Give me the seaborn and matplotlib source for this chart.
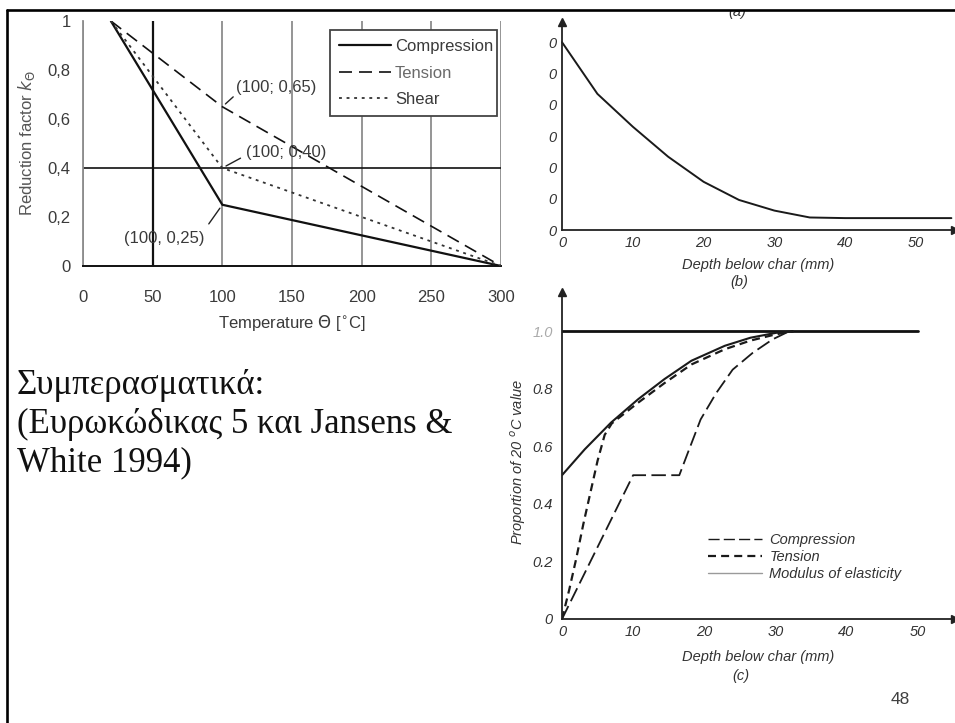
import matplotlib
matplotlib.use("Agg")
import matplotlib.pyplot as plt
import seaborn as sns
from matplotlib.lines import Line2D
from matplotlib.transforms import Bbox

# ---- Eurocode 5 reduction factors for strength vs. temperature ----
temp_c = [20, 100, 300]
k_compression = [1.0, 0.25, 0.0]
k_tension = [1.0, 0.65, 0.0]
k_shear = [1.0, 0.40, 0.0]
temp_ticks = [0, 50, 100, 150, 200, 250, 300]
k_ticks = [0, 0.2, 0.4, 0.6, 0.8, 1.0]
k_tick_labels = ["0", "0,2", "0,4", "0,6", "0,8", "1"]
point_labels = ["(100; 0,65)", "(100; 0,40)", "(100, 0,25)"]

# ---- (b) profile below the char line ----
depth_b = [0, 5, 10, 15, 20, 25, 30, 35, 40, 45, 50, 55]
profile_b = [6.0, 4.35, 3.3, 2.34, 1.54, 0.96, 0.62, 0.40, 0.38, 0.38, 0.38, 0.38]
profile_b_ticks = [0, 1, 2, 3, 4, 5, 6]
depth_ticks = [0, 10, 20, 30, 40, 50]
depth_minor = [5, 15, 25, 35, 45]

# ---- (c) proportion of 20 °C value vs. depth below char ----
ref_depth = [0, 50]
ref_prop = [1.0, 1.0]
mod_depth = [0, 3.2, 6.9, 10.7, 14.4, 18.2, 22.9, 26.5, 30.1, 32.5]
mod_prop = [0.5, 0.59, 0.683, 0.764, 0.834, 0.898, 0.95, 0.978, 0.995, 1.0]
ten_depth = [0, 1, 2, 3, 4, 5, 6, 7, 10.7, 14.4, 18.2, 22.9, 26.5, 30.1, 32.5]
ten_prop = [0, 0.1, 0.21, 0.33, 0.44, 0.55, 0.64, 0.68, 0.752, 0.82, 0.885,
            0.938, 0.968, 0.99, 1.0]
comp_depth = [0, 10, 16.5, 17.7, 19.5, 21.7, 24, 26.8, 29.6, 31.5, 32.5]
comp_prop = [0, 0.5, 0.5, 0.578, 0.694, 0.786, 0.867, 0.925, 0.972, 0.995, 1.0]
prop_major = [0, 0.2, 0.4, 0.6, 0.8, 1.0]
prop_minor = [0.1, 0.3, 0.5, 0.7, 0.9]
prop_labels = ["0", "0.2", "0.4", "0.6", "0.8", "1.0"]

W, H = 955, 723

sns.set_theme(style="white")
plt.rcParams["font.family"] = ["Liberation Sans", "DejaVu Sans"]
plt.rcParams["axes.facecolor"] = "none"

fig = plt.figure(figsize=(W / 100, H / 100), dpi=100)
fig.patch.set_facecolor("white")


def px_rect(left, top, right, bottom):
    return [left / W, 1 - bottom / H, (right - left) / W, (bottom - top) / H]


def ftext(x, y, s, **kw):
    return fig.text(x / W, 1 - y / H, s, **kw)


# ================= left chart: reduction factor =================
grey_txt = "#3a3a3a"
ax1 = fig.add_axes(px_rect(83, 21, 501, 266))
ax1.set_xlim(0, 300)
ax1.set_ylim(0, 1)
ax1.set_xticks(temp_ticks)
ax1.set_yticks(k_ticks)
ax1.set_yticklabels(k_tick_labels)
ax1.grid(axis="x", color="#8c8c8c", lw=1.3)
ax1.xaxis.get_gridlines()[1].set_color("#111111")
ax1.xaxis.get_gridlines()[1].set_linewidth(1.6)
ax1.axhline(k_ticks[2], color="#111111", lw=1.2, zorder=1)
for s in ["top", "right"]:
    ax1.spines[s].set_visible(False)
ax1.spines["left"].set_color("#8c8c8c")
ax1.spines["left"].set_linewidth(1.3)
ax1.spines["bottom"].set_color("#111111")
ax1.spines["bottom"].set_linewidth(1.4)
ax1.tick_params(axis="both", direction="out", length=4, width=1.1,
                colors="#777777", labelcolor=grey_txt, labelsize=12)
ax1.tick_params(axis="x", pad=13)
ax1.tick_params(axis="y", pad=5)

sns.lineplot(x=temp_c, y=k_compression, ax=ax1, color="#111111", lw=1.6,
             label="Compression", zorder=3)
sns.lineplot(x=temp_c, y=k_tension, ax=ax1, color="#111111", lw=1.2,
             ls=(0, (7.8, 4.2)), label="Tension", zorder=3)
sns.lineplot(x=temp_c, y=k_shear, ax=ax1, color="#333333", lw=1.3,
             ls=(0, (1.6, 2.6)), label="Shear", zorder=3)

leg1 = ax1.legend(loc="upper left", bbox_to_anchor=(0.591, 0.637, 0.40, 0.327),
                  mode="expand", frameon=True, fancybox=False, borderaxespad=0,
                  fontsize=12, handlelength=3.1, handletextpad=0.25,
                  labelspacing=0.7, borderpad=0.55)
leg1.get_frame().set_edgecolor("#444444")
leg1.get_frame().set_linewidth(1.3)
leg1.get_frame().set_facecolor("white")
leg1.get_frame().set_alpha(1)
for t, c in zip(leg1.get_texts(), [grey_txt, "#6a6a6a", grey_txt]):
    t.set_color(c)

ax1.set_ylabel(r"Reduction factor $k_{\Theta}$", fontsize=12, color="#555555")
ax1.yaxis.set_label_coords(-0.110, 0.5)
ax1.set_xlabel(r"Temperature $\Theta$ [$^{\circ}$C]", fontsize=12,
               color=grey_txt, labelpad=6)

arrow_kw = dict(arrowstyle="-", color="#222222", lw=1.0)
ax1.annotate(point_labels[0], xy=(temp_c[1], k_tension[1]), xytext=(139, 0.727),
             ha="center", va="center", fontsize=12, color=grey_txt,
             arrowprops=dict(**arrow_kw, relpos=(0.0, 0.1), shrinkA=0, shrinkB=3))
ax1.annotate(point_labels[1], xy=(temp_c[1], k_shear[1]), xytext=(146, 0.465),
             ha="center", va="center", fontsize=12, color=grey_txt,
             arrowprops=dict(**arrow_kw, relpos=(0.0, 0.3), shrinkA=2, shrinkB=3))
ax1.annotate(point_labels[2], xy=(temp_c[1], k_compression[1]), xytext=(58, 0.114),
             ha="center", va="center", fontsize=12, color=grey_txt,
             arrowprops=dict(**arrow_kw, relpos=(1.0, 1.0), shrinkA=3, shrinkB=3))

# ================= (b) =================
ital = dict(fontstyle="italic", color="#333333")
ax2 = fig.add_axes(px_rect(562, 22, 955, 230))
ax2.set_xlim(0, 393 / 7.08)
ax2.set_ylim(0, 208 / 31.3)
sns.lineplot(x=depth_b, y=profile_b, ax=ax2, color="#1a1a1a", lw=1.4,
             clip_on=False)
ax2.set_xticks(depth_ticks)
ax2.set_xticks(depth_minor, minor=True)
ax2.set_yticks(profile_b_ticks)
ax2.set_yticklabels(["0"] * len(profile_b_ticks))
for s in ["top", "right"]:
    ax2.spines[s].set_visible(False)
for s in ["left", "bottom"]:
    ax2.spines[s].set_color("#222222")
    ax2.spines[s].set_linewidth(1.3)
ax2.tick_params(axis="both", which="both", direction="in", length=8, width=1.3,
                color="#222222", labelsize=10.5, labelcolor="#333333")
ax2.tick_params(axis="y", pad=4)
ax2.tick_params(axis="x", pad=4)
for t in ax2.get_xticklabels() + ax2.get_yticklabels():
    t.set_fontstyle("italic")
ax2.plot(1, 0, ">", color="#222222", ms=6, transform=ax2.get_yaxis_transform(),
         clip_on=False)
ax2.plot(0, 1, "^", color="#222222", ms=6, transform=ax2.get_xaxis_transform(),
         clip_on=False)
ax2.set_xlabel("Depth below char (mm)", fontsize=10.5, labelpad=6, **ital)
ftext(739, 282, "(b)", fontsize=10.5, ha="center", va="center", **ital)
ta = ftext(737, 12, "(a)", fontsize=10.5, ha="center", va="center", **ital)
ta.set_clip_box(Bbox.from_extents(0, 0, W, H - 10))
ta.set_clip_on(True)

# ================= (c) =================
ax3 = fig.add_axes(px_rect(562, 292, 955, 619))
ax3.set_xlim(0, 393 / 7.11)
ax3.set_ylim(0, 327 / 287.6)
sns.lineplot(x=ref_depth, y=ref_prop, ax=ax3, color="#111111", lw=2.0)
sns.lineplot(x=comp_depth, y=comp_prop, ax=ax3, color="#1a1a1a", lw=1.3,
             ls=(0, (8, 3)), label="Compression")
sns.lineplot(x=ten_depth, y=ten_prop, ax=ax3, color="#1a1a1a", lw=1.6,
             ls=(0, (3.6, 2.3)), label="Tension")
sns.lineplot(x=mod_depth, y=mod_prop, ax=ax3, color="#1a1a1a", lw=1.5,
             label="Modulus of elasticity")
ax3.set_xticks(depth_ticks)
ax3.set_xticks(depth_minor, minor=True)
ax3.set_yticks(prop_major)
ax3.set_yticks(prop_minor, minor=True)
ax3.set_yticklabels(prop_labels)
for s in ["top", "right"]:
    ax3.spines[s].set_visible(False)
for s in ["left", "bottom"]:
    ax3.spines[s].set_color("#222222")
    ax3.spines[s].set_linewidth(1.3)
ax3.tick_params(axis="both", which="both", direction="in", length=8, width=1.3,
                color="#222222", labelsize=10.5, labelcolor="#333333")
ax3.tick_params(axis="y", pad=6.5)
ax3.tick_params(axis="x", pad=4)
for t in ax3.get_xticklabels() + ax3.get_yticklabels():
    t.set_fontstyle("italic")
ax3.get_yticklabels()[-1].set_color("#aaaaaa")
ax3.plot(1, 0, ">", color="#222222", ms=6, transform=ax3.get_yaxis_transform(),
         clip_on=False)
ax3.plot(0, 1, "^", color="#222222", ms=6, transform=ax3.get_xaxis_transform(),
         clip_on=False)
ax3.set_xlabel("Depth below char (mm)", fontsize=10.5, labelpad=8, **ital)
ax3.set_ylabel("Proportion of 20 $^{o}$C value", fontsize=10.5, **ital)
ax3.yaxis.set_label_coords(-0.0865, 0.48)
ftext(741, 676, "(c)", fontsize=10.5, ha="center", va="center", **ital)

leg3 = ax3.legend(loc="upper left", bbox_to_anchor=(0.372, 0.262), frameon=False,
                  borderaxespad=0, borderpad=0, fontsize=10.5, handlelength=3.7,
                  handletextpad=0.5, labelspacing=0.2)
for t in leg3.get_texts():
    t.set_fontstyle("italic")
    t.set_color("#333333")
hl = leg3.get_lines()
hl[0].set_linewidth(1.0)
hl[2].set_color("#9a9a9a")
hl[2].set_linewidth(1.0)

# ================= slide text =================
ftext(17, 424, "Συμπερασματικά:\n(Ευρωκώδικας 5 και Jansens &\nWhite 1994)",
      fontsize=25, family=["Liberation Serif", "DejaVu Serif"], ha="left",
      va="center", linespacing=1.22, color="#111111")
ftext(900, 700, "48", fontsize=12.5, ha="center", va="center", color="#404040")

# slide frame
fig.add_artist(Line2D([7 / W, 1], [1 - 9.5 / H] * 2, transform=fig.transFigure,
                      color="black", lw=1.9, zorder=10))
fig.add_artist(Line2D([7.3 / W] * 2, [0, 1 - 9.5 / H], transform=fig.transFigure,
                      color="black", lw=1.9, zorder=10))

fig.savefig("out.png", dpi=100)
